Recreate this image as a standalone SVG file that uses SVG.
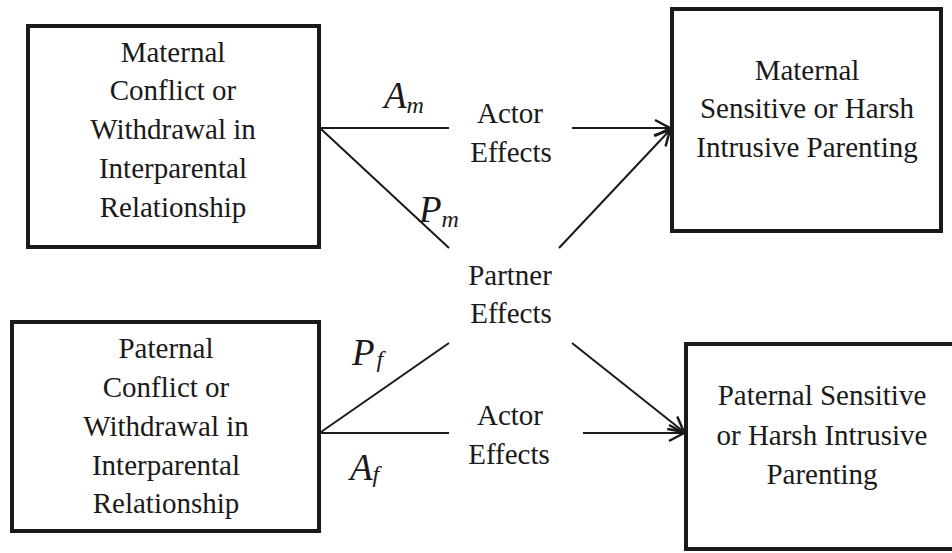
<svg xmlns="http://www.w3.org/2000/svg" width="952" height="553" viewBox="0 0 952 553">
<style>
.box{fill:#fff;stroke:#1a1a1a;stroke-width:4}
.t{font-size:29px;fill:#1a1a1a;text-anchor:middle}
.lab{font-style:italic;fill:#1a1a1a}
.big{font-size:37px}
.sub{font-size:24px}
.c{stroke:#1a1a1a;stroke-width:2;fill:none}
</style>
<defs>
<marker id="arr" markerUnits="userSpaceOnUse" markerWidth="24" markerHeight="24" viewBox="-20 -12 24 24" refX="0" refY="0" orient="auto">
<path d="M-15,-8 L0,0 L-15,8" fill="none" stroke="#1a1a1a" stroke-width="2.5"/>
</marker>
</defs>
<rect width="952" height="553" fill="#fff"/>
<g id="connectors">
<line class="c" x1="321" y1="128" x2="449" y2="128"/>
<line class="c" x1="321" y1="129" x2="449" y2="248"/>
<line class="c" x1="572" y1="128" x2="670" y2="128" marker-end="url(#arr)"/>
<line class="c" x1="559" y1="248" x2="670" y2="130" marker-end="url(#arr)"/>
<line class="c" x1="321" y1="433" x2="449" y2="433"/>
<line class="c" x1="321" y1="432" x2="449" y2="343"/>
<line class="c" x1="583" y1="433" x2="684" y2="433" marker-end="url(#arr)"/>
<line class="c" x1="572" y1="343" x2="684" y2="432" marker-end="url(#arr)"/>
</g>
<g font-family="Liberation Serif, Times New Roman, serif">
<g id="labels">
<text class="lab" x="384" y="108"><tspan class="big">A</tspan><tspan class="sub" dy="5">m</tspan></text>
<text class="lab" x="419" y="222"><tspan class="big">P</tspan><tspan class="sub" dy="5">m</tspan></text>
<text class="lab" x="352" y="365"><tspan class="big">P</tspan><tspan class="sub" dy="2" dx="2">f</tspan></text>
<text class="lab" x="350" y="480"><tspan class="big">A</tspan><tspan class="sub" dy="2">f</tspan></text>
<text class="t" x="510" y="123">Actor</text>
<text class="t" x="511" y="162">Effects</text>
<text class="t" x="510" y="285">Partner</text>
<text class="t" x="511" y="323">Effects</text>
<text class="t" x="510" y="425">Actor</text>
<text class="t" x="509" y="464">Effects</text>
</g>
<g id="maternal-conflict">
<rect class="box" x="28" y="26" width="291" height="221"/>
<text class="t" x="173" y="62">Maternal</text>
<text class="t" x="173" y="100">Conflict or</text>
<text class="t" x="173" y="139">Withdrawal in</text>
<text class="t" x="173" y="178">Interparental</text>
<text class="t" x="173" y="217">Relationship</text>
</g>
<g id="maternal-parenting">
<rect class="box" x="672" y="9" width="269" height="222"/>
<text class="t" x="807" y="80">Maternal</text>
<text class="t" x="807" y="118">Sensitive or Harsh</text>
<text class="t" x="807" y="157">Intrusive Parenting</text>
</g>
<g id="paternal-conflict">
<rect class="box" x="12" y="322" width="307" height="209"/>
<text class="t" x="166" y="358">Paternal</text>
<text class="t" x="166" y="397">Conflict or</text>
<text class="t" x="166" y="436">Withdrawal in</text>
<text class="t" x="166" y="475">Interparental</text>
<text class="t" x="166" y="513">Relationship</text>
</g>
<g id="paternal-parenting">
<rect class="box" x="686" y="344" width="290" height="205"/>
<text class="t" x="822" y="405">Paternal Sensitive</text>
<text class="t" x="822" y="445">or Harsh Intrusive</text>
<text class="t" x="822" y="484">Parenting</text>
</g>
</g>
</svg>
